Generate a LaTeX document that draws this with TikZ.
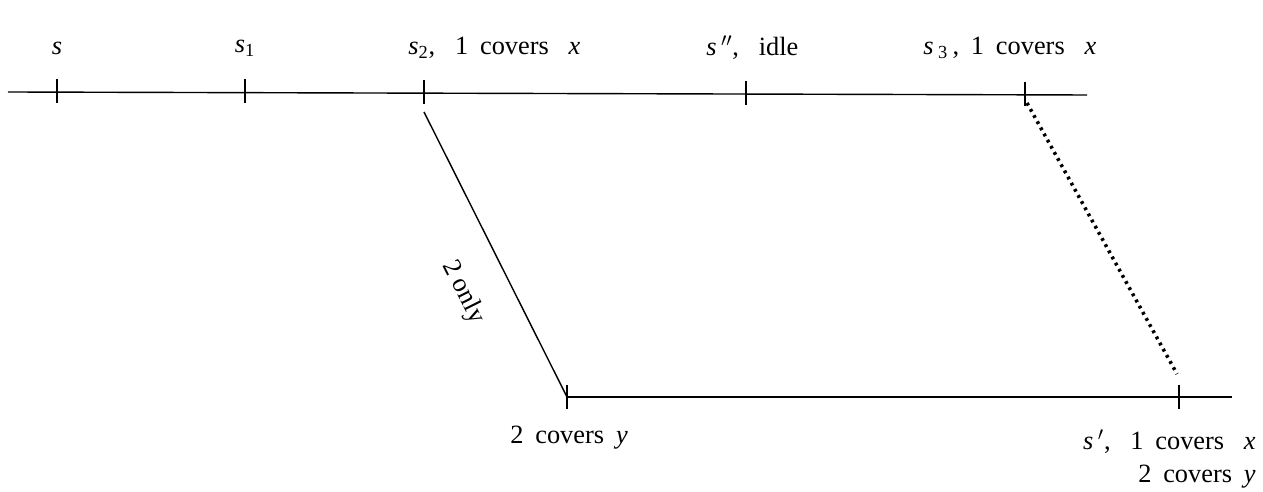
\documentclass[tikz,border=0pt]{standalone}
\usepackage{fontspec}
\setmainfont{Liberation Serif}
\usetikzlibrary{positioning}
\tikzset{
  lab/.style={inner sep=0pt, font=\fontsize{15}{17}\selectfont},
  timeline/.style={line width=0.8pt},
  dotline/.style={line width=2pt, dash pattern=on 1.6pt off 2.4pt},
}
\newcommand{\gap}{\hspace{0.45em}}
\newcommand{\wgap}{\hspace{0.75em}}
\begin{document}
\begin{tikzpicture}[x=0.02cm, y=-0.02cm]
\useasboundingbox (0,0) rectangle (1263,492);
% Upper time line
\coordinate (topL) at (8,92);
\coordinate (topR) at (1087,95);
\coordinate (s) at (57,92);
\coordinate (s1) at (245,92);
\coordinate (s2) at (424,93);
\coordinate (s2b) at (424,112);
\coordinate (sdd) at (746,94);
\coordinate (s3) at (1025,95);
\coordinate (s3b) at (1027,103);
\draw[timeline] (topL) -- (topR);
\foreach \p in {s,s1,s2,sdd,s3}
  \draw[timeline] (\p) ++(0,-13) -- ++(0,24);
% Lower time line
\coordinate (y2) at (567,397);
\coordinate (sp) at (1179,397);
\coordinate (spb) at (1177,374);
\coordinate (botR) at (1232,397);
\draw[timeline] (y2) -- (botR);
\foreach \p in {y2,sp}
  \draw[timeline] (\p) ++(0,-12) -- ++(0,24);
% Connectors
\draw[timeline] (s2b) -- (y2) node[pos=0.56, lab, sloped, below=19pt] {2 only};
\draw[dotline] (s3b) -- (spb);
% Labels
\node[lab] (ls) at (57,48) {\textit{s}};
\node[lab] (ls1) at (245,48) {\textit{s}\textsubscript{1}};
\node[lab, anchor=west] (ls2) at (408,48) {\textit{s}\textsubscript{2},\wgap 1\gap covers\wgap \textit{x}};
\node[lab, anchor=west] (lsdd) at (706,48) {\textit{s}\,$''$,\wgap idle};
\node[lab, anchor=west] (ls3) at (923,48) {\textit{s}\,\textsubscript{3}\,,\gap 1\gap covers\wgap \textit{x}};
\node[lab, anchor=west] (ly2) at (510,438) {2\gap covers\gap \textit{y}};
\node[lab, anchor=east] (lsp) at (1256,442) {\textit{s}\,$'$,\wgap 1\gap covers\wgap \textit{x}};
\node[lab, below=6pt of lsp.south east, anchor=north east] (lsp2) {2\gap covers\gap \textit{y}};
\end{tikzpicture}
\end{document}
